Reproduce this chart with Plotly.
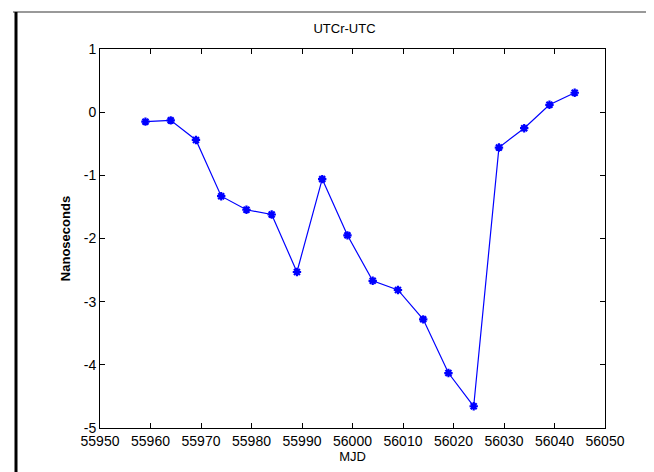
import plotly.graph_objects as go

mjd = [55959, 55964, 55969, 55974, 55979, 55984, 55989, 55994, 55999,
       56004, 56009, 56014, 56019, 56024, 56029, 56034, 56039, 56044]
ns = [-0.15, -0.13, -0.44, -1.33, -1.545, -1.62, -2.53, -1.06, -1.95,
      -2.67, -2.815, -3.28, -4.13, -4.656, -0.56, -0.254, 0.117, 0.307]

x_ticks = [55950, 55960, 55970, 55980, 55990, 56000, 56010, 56020, 56030, 56040, 56050]
y_ticks = [-5, -4, -3, -2, -1, 0, 1]

W, H = 654, 472
L, R, T, B = 92, 57, 41, 52
pw, ph = W - L - R, H - T - B

def px(x):
    return (x - L) / pw

def py(y):
    return (H - B - y) / ph

fig = go.Figure()
fig.add_trace(go.Scatter(
    x=mjd, y=ns, mode="lines+markers",
    line=dict(color="#0000ff", width=1.2),
    marker=dict(symbol="asterisk", size=7, color="#0000ff",
                line=dict(color="#0000ff", width=2.2)),
    showlegend=False,
))

font = "Liberation Sans, Arial, sans-serif"
axis_common = dict(
    showgrid=False, zeroline=False, showline=True, linecolor="black",
    linewidth=1, mirror="ticks", ticks="inside", ticklen=5, tickcolor="black",
    tickfont=dict(family=font, size=14, color="black"),
)
fig.update_xaxes(range=[55950, 56050], tickvals=x_ticks,
                 ticktext=[str(v) for v in x_ticks],
                 title=dict(text="MJD", font=dict(family=font, size=13, color="black"), standoff=4),
                 **axis_common)
fig.update_yaxes(range=[-5, 1], tickvals=y_ticks,
                 ticktext=[str(v) for v in y_ticks],
                 title=dict(text="<b>Nanoseconds</b>", font=dict(family=font, size=13, color="black"), standoff=10),
                 **axis_common)

# window frame lines
fig.add_shape(type="line", xref="paper", yref="paper",
              x0=px(5), x1=px(654), y0=py(4), y1=py(4),
              line=dict(color="#777777", width=1.5))
fig.add_shape(type="line", xref="paper", yref="paper",
              x0=px(5), x1=px(654), y0=py(470), y1=py(470),
              line=dict(color="#777777", width=1.5))
fig.add_shape(type="line", xref="paper", yref="paper",
              x0=px(8), x1=px(8), y0=py(4), y1=py(470),
              line=dict(color="black", width=3))

fig.update_layout(
    width=W, height=H,
    margin=dict(l=L, r=R, t=T, b=B),
    paper_bgcolor="white", plot_bgcolor="white",
    title=dict(text="UTCr-UTC", x=(L + pw / 2 - 8) / W, xanchor="center",
               y=1 - 20 / H, yanchor="middle",
               font=dict(family=font, size=13, color="black")),
)

fig.write_html("out.html")
